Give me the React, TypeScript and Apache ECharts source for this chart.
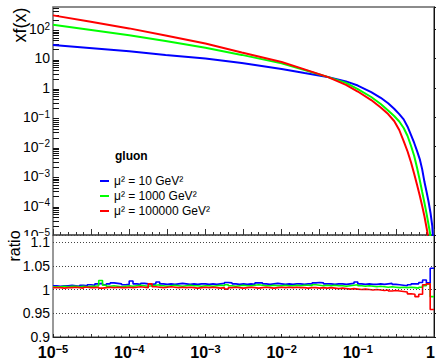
import React, { useEffect, useRef } from 'react';
import * as echarts from 'echarts';

const FONT = "'Liberation Sans', Arial, Helvetica, sans-serif";

// x grid for the xf(x) curves
const xValues = [1e-5, 3e-5, 1e-4, 3e-4, 1e-3, 3e-3, 0.01, 0.02, 0.04, 0.07, 0.1, 0.15, 0.2, 0.25, 0.3, 0.35, 0.4, 0.45, 0.5, 0.55, 0.6, 0.65, 0.7, 0.75, 0.8, 0.85, 0.9, 0.95, 0.98];

// gluon xg(x) at mu^2 = 10 GeV^2
const xgMu10 = [28.7, 22.7, 17.5, 13.2, 10.0, 7.0, 4.4, 3.2, 2.36, 1.66, 1.2, 0.72, 0.46, 0.30, 0.195, 0.128, 0.085, 0.048, 0.025, 0.0134, 0.0071, 0.0038, 0.0017, 6.3e-4, 2.9e-4, 1.32e-4, 5.6e-5, 2.0e-5, 5e-6];
// mu^2 = 1000 GeV^2
const xgMu1000 = [140, 94, 61, 39, 23.2, 13.2, 6.8, 4.07, 2.36, 1.48, 0.914, 0.489, 0.283, 0.170, 0.111, 0.072, 0.0433, 0.0231, 0.0106, 0.00484, 0.00189, 7.4e-4, 2.89e-4, 1.22e-4, 5.2e-5, 2.19e-5, 9.3e-6, 2e-6, 1e-6];
// mu^2 = 100000 GeV^2
const xgMu100000 = [291, 180, 105, 60, 32, 15.9, 7.6, 4.24, 2.36, 1.26, 0.752, 0.386, 0.215, 0.129, 0.0748, 0.037, 0.0156, 0.00687, 0.0029, 0.00118, 5.0e-4, 2.2e-4, 9.7e-5, 4.26e-5, 1.73e-5, 7e-6, 2e-6, 1e-6, 1e-6];

// ratio panel: 100 bins of 0.05 decade from 1e-5 to 1
const ratioMu10 = [
  1.008, 1.007, 1.008, 1.008, 1.009, 1.008, 1.007, 1.009, 1.008, 1.010,
  1.009, 1.012, 1.013, 1.010, 1.012, 1.014, 1.013, 1.012, 1.010, 1.011,
  1.018, 1.012, 1.011, 1.013, 1.012, 1.011, 1.012, 1.016, 1.012, 1.011,
  1.012, 1.011, 1.012, 1.013, 1.012, 1.011, 1.012, 1.011, 1.012, 1.012,
  1.011, 1.012, 1.011, 1.012, 1.013, 1.015, 1.014, 1.012, 1.011, 1.012,
  1.011, 1.012, 1.011, 1.014, 1.014, 1.012, 1.011, 1.012, 1.013, 1.012,
  1.011, 1.012, 1.011, 1.012, 1.012, 1.011, 1.012, 1.012, 1.014, 1.015,
  1.014, 1.012, 1.012, 1.011, 1.012, 1.012, 1.011, 1.012, 1.013, 1.016,
  1.012, 1.011, 1.012, 1.011, 1.011, 1.012, 1.011, 1.012, 1.013, 1.011,
  1.010, 1.009, 1.008, 1.010, 1.012, 1.012, 1.015, 1.020, 1.014, 1.045,
];
const ratioMu1000 = [
  1.006, 1.006, 1.007, 1.006, 1.007, 1.007, 1.006, 1.007, 1.006, 1.007,
  1.007, 1.008, 1.019, 1.009, 1.007, 1.008, 1.007, 1.006, 1.007, 1.008,
  1.007, 1.008, 1.009, 1.008, 1.007, 1.008, 1.009, 1.010, 1.008, 1.007,
  1.008, 1.009, 1.008, 1.007, 1.008, 1.009, 1.008, 1.008, 1.007, 1.008,
  1.008, 1.007, 1.008, 1.009, 1.008, 1.010, 1.008, 1.007, 1.008, 1.009,
  1.008, 1.008, 1.009, 1.010, 1.009, 1.008, 1.008, 1.009, 1.008, 1.008,
  1.009, 1.008, 1.008, 1.009, 1.008, 1.009, 1.009, 1.008, 1.010, 1.009,
  1.008, 1.009, 1.008, 1.009, 1.008, 1.008, 1.007, 1.008, 1.009, 1.010,
  1.008, 1.007, 1.008, 1.007, 1.006, 1.007, 1.006, 1.005, 1.006, 1.005,
  1.004, 1.005, 1.004, 1.005, 1.004, 1.003, 1.005, 1.008, 1.012, 0.985,
];
const ratioMu100000 = [
  1.004, 1.004, 1.003, 1.004, 1.004, 1.005, 1.004, 1.003, 1.005, 1.004,
  1.004, 1.005, 1.003, 1.004, 1.005, 1.004, 1.005, 1.004, 1.004, 1.005,
  1.004, 1.005, 1.006, 1.005, 1.004, 1.012, 1.006, 1.005, 1.004, 1.005,
  1.006, 1.005, 1.004, 1.005, 1.004, 1.005, 1.004, 1.003, 1.004, 1.005,
  1.004, 1.005, 1.004, 1.003, 1.004, 1.001, 1.004, 1.005, 1.004, 1.003,
  1.004, 1.005, 1.004, 1.003, 1.004, 1.005, 1.004, 1.003, 1.004, 1.005,
  1.004, 1.005, 1.004, 1.005, 1.004, 1.004, 1.003, 1.004, 1.004, 1.003,
  1.004, 1.003, 1.004, 1.003, 1.002, 1.003, 1.002, 1.001, 1.002, 1.001,
  1.000, 1.001, 1.000, 0.999, 1.000, 0.999, 0.998, 0.999, 0.997, 0.998,
  0.997, 0.996, 0.995, 0.991, 0.990, 0.985, 0.990, 1.010, 1.012, 0.958,
];

const seriesNames = ['μ² = 10 GeV²', 'μ² = 1000 GeV²', 'μ² = 100000 GeV²'];
const seriesColors = ['#0000ff', '#00ff00', '#ff0000'];
const curves = [xgMu10, xgMu1000, xgMu100000];
const ratios = [ratioMu10, ratioMu1000, ratioMu100000];

// tick labels
const yDecades = [-5, -4, -3, -2, -1, 0, 1, 2];
const xDecades = [-5, -4, -3, -2, -1, 0];
const ratioTicks = [0.9, 0.95, 1, 1.05, 1.1];
const minorMultipliers = [2, 3, 4, 5, 6, 7, 8, 9];

const binEdges = Array.from({ length: 101 }, (_, i) => Math.pow(10, -5 + i / 20));
const yMinorTicks: number[] = [];
yDecades.forEach((d) => minorMultipliers.forEach((m) => {
  const v = m * Math.pow(10, d);
  if (v < 560) yMinorTicks.push(v);
}));

function powLabel(v: number, decades: number[], lastPad: boolean) {
  const e = Math.log10(v);
  const r = Math.round(e);
  if (Math.abs(e - r) > 1e-6 || decades.indexOf(r) < 0) return '';
  if (r === 0) return lastPad ? '{e|1}' : '{b|1}';
  if (r === 1) return '{b|10}';
  return '{b|10}{s|' + (r < 0 ? '−' : '') + Math.abs(r) + '}';
}

export default function App() {
  const ref = useRef<HTMLDivElement>(null);
  useEffect(() => {
    if (!ref.current) return;
    const chart = echarts.init(ref.current, undefined, { renderer: 'svg' });
    const mainSeries = curves.map((vals, k) => ({
      type: 'line',
      name: seriesNames[k],
      xAxisIndex: 0,
      yAxisIndex: 0,
      data: xValues.map((x, i) => [x, vals[i]]),
      showSymbol: false,
      clip: true,
      lineStyle: { color: seriesColors[k], width: 2 },
      itemStyle: { color: seriesColors[k] },
      z: 3 + k,
    }));
    const ratioSeries = ratios.map((vals, k) => ({
      type: 'line',
      name: seriesNames[k],
      xAxisIndex: 2,
      yAxisIndex: 1,
      step: 'end',
      data: binEdges.map((x, i) => [x, vals[Math.min(i, vals.length - 1)]]),
      showSymbol: false,
      clip: true,
      lineStyle: { color: seriesColors[k], width: 1.6 },
      itemStyle: { color: seriesColors[k] },
      z: 3 + k,
    }));
    const option: any = {
      animation: false,
      backgroundColor: '#ffffff',
      textStyle: { fontFamily: FONT },
      grid: [
        { left: 53, top: 7, width: 381, height: 228, show: true, borderColor: '#666', borderWidth: 1.5, outerBoundsMode: 'none', containLabel: false },
        { left: 53, top: 235, width: 381, height: 102, show: true, borderColor: '#333', borderWidth: 1, outerBoundsMode: 'none', containLabel: false },
      ],
      xAxis: [
        {
          gridIndex: 0, type: 'log', logBase: 10, min: 1e-5, max: 1, position: 'bottom',
          axisLine: { show: true, lineStyle: { color: '#666', width: 1.5 } },
          axisTick: { show: false }, axisLabel: { show: false }, splitLine: { show: false },
        },
        {
          gridIndex: 0, type: 'value', min: -5, max: 0, interval: 0.5, position: 'bottom',
          axisLine: { show: false },
          axisTick: { show: true, inside: true, length: 6, lineStyle: { color: '#333', width: 1 } },
          minorTick: { show: true, splitNumber: 5, length: 3, lineStyle: { color: '#333', width: 1 } },
          axisLabel: { show: false }, splitLine: { show: false },
        },
        {
          gridIndex: 1, type: 'log', logBase: 10, min: 1e-5, max: 1, interval: 1, position: 'bottom', z: 20,
          axisLine: { show: true, lineStyle: { color: '#222', width: 1 } },
          axisTick: { show: true, inside: true, length: 3, lineStyle: { color: '#222' } },
          axisLabel: {
            show: true, margin: 6, hideOverlap: false,
            formatter: (v: number) => powLabel(v, xDecades, true),
            rich: {
              b: { fontSize: 16, fontWeight: 'bold', lineHeight: 18, fontFamily: FONT, color: '#000' },
              e: { fontSize: 16, fontWeight: 'bold', lineHeight: 18, fontFamily: FONT, color: '#000', padding: [0, 7, 0, 0] },
              s: { fontSize: 11, fontWeight: 'bold', lineHeight: 11, verticalAlign: 'top', fontFamily: FONT, color: '#000' },
            },
          },
          splitLine: { show: false },
        },
        {
          gridIndex: 1, type: 'value', min: -5, max: 0, interval: 0.5, position: 'bottom',
          axisLine: { show: false },
          axisTick: { show: true, inside: true, length: 3, lineStyle: { color: '#333' } },
          minorTick: { show: true, splitNumber: 5, length: 1.5, lineStyle: { color: '#333' } },
          axisLabel: { show: false }, splitLine: { show: false },
        },
      ],
      yAxis: [
        {
          gridIndex: 0, type: 'log', logBase: 10, min: 1e-5, max: 560, interval: 1, splitNumber: 8,
          axisLine: { show: true, lineStyle: { color: '#111', width: 1 } },
          axisTick: { show: true, inside: true, length: 12, lineStyle: { color: '#111' } },
          axisLabel: {
            show: true, margin: 3, hideOverlap: false,
            formatter: (v: number) => powLabel(v, yDecades, false),
            rich: {
              b: { fontSize: 14, lineHeight: 16, fontFamily: FONT, color: '#000' },
              s: { fontSize: 10, lineHeight: 10, verticalAlign: 'top', fontFamily: FONT, color: '#000' },
            },
          },
          splitLine: { show: false },
        },
        {
          gridIndex: 1, type: 'value', min: 0.9, max: 1.115, interval: 0.05, z: 20,
          axisLine: { show: true, lineStyle: { color: '#111', width: 1 } },
          axisTick: { show: true, inside: true, length: 8, lineStyle: { color: '#111' } },
          axisLabel: {
            show: true, margin: 3, fontSize: 14, color: '#000', fontFamily: FONT, hideOverlap: false,
            formatter: (v: number) => {
              const t = ratioTicks.find((r) => Math.abs(r - v) < 1e-6);
              return t === undefined ? '' : String(t);
            },
          },
          splitLine: { show: true, lineStyle: { type: [1, 2], color: '#444', width: 1 } },
        },
        {
          gridIndex: 0, type: 'log', logBase: 10, min: 1e-5, max: 560, position: 'left',
          axisLine: { show: false },
          axisTick: { show: true, inside: true, length: 6, customValues: yMinorTicks, lineStyle: { color: '#111' } },
          axisLabel: { show: false },
          splitLine: { show: false },
        },
      ],
      legend: {
        orient: 'vertical', left: 100, top: 174.5, padding: 0,
        itemWidth: 9, itemHeight: 2, itemGap: 2, icon: 'rect', selectedMode: false,
        data: seriesNames,
        textStyle: { fontSize: 12, lineHeight: 13, fontFamily: FONT, color: '#000' },
      },
      graphic: [
        { type: 'rect', z: 10, shape: { x: 0, y: 236, width: 52, height: 100 }, style: { fill: '#fff' } },
        {
          type: 'text', z: 30, x: 19.5, y: 25, rotation: Math.PI / 2,
          style: { text: 'xf(x)', fontSize: 18, fontFamily: FONT, fill: '#000', align: 'center', verticalAlign: 'middle' },
        },
        {
          type: 'text', z: 30, x: 14, y: 246, rotation: Math.PI / 2,
          style: { text: 'ratio', fontSize: 16, fontFamily: FONT, fill: '#000', align: 'center', verticalAlign: 'middle' },
        },
        {
          type: 'text', z: 30, x: 115, y: 156,
          style: { text: 'gluon', fontSize: 12, fontWeight: 'bold', fontFamily: FONT, fill: '#000', align: 'left', verticalAlign: 'middle' },
        },
      ],
      series: [...mainSeries, ...ratioSeries],
    };
    chart.setOption(option);
    return () => chart.dispose();
  }, []);
  return <div ref={ref} style={{ position: 'fixed', left: 0, top: 0, width: 436, height: 361 }} />;
}
